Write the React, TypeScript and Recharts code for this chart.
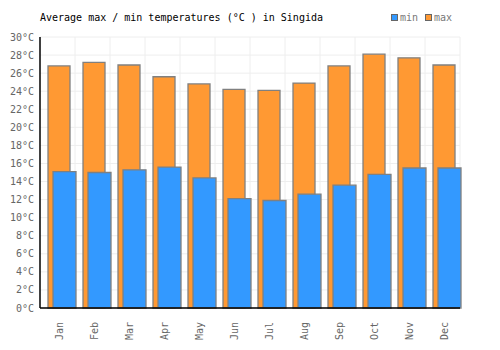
import React from 'react';
import { BarChart, Bar, XAxis, YAxis, CartesianGrid, Rectangle } from 'recharts';

const months = ['Jan', 'Feb', 'Mar', 'Apr', 'May', 'Jun', 'Jul', 'Aug', 'Sep', 'Oct', 'Nov', 'Dec'];
const minTemps = [15.1, 15.0, 15.3, 15.6, 14.4, 12.1, 11.9, 12.6, 13.6, 14.8, 15.5, 15.5];
const maxTemps = [26.8, 27.2, 26.9, 25.6, 24.8, 24.2, 24.1, 24.9, 26.8, 28.1, 27.7, 26.9];
const yTicks = [0, 2, 4, 6, 8, 10, 12, 14, 16, 18, 20, 22, 24, 26, 28, 30];
const title = 'Average max / min temperatures (°C ) in Singida';
const seriesNames = ['min', 'max'];

const data = months.map((m, i) => ({ month: m, min: minTemps[i], max: maxTemps[i] }));

const FONT = '"DejaVu Sans Mono", monospace';
const MIN_COLOR = '#3399ff';
const MAX_COLOR = '#ff9933';
const STROKE = '#808080';

const ShiftedBar = (props: any) => <Rectangle {...props} x={props.x + 4} />;

const XTick = (props: any) => {
  const { x, y, payload } = props;
  return (
    <g transform={`translate(${x + 5},${y + 6})`}>
      <text transform="rotate(-90)" textAnchor="end" fontSize={10} fontFamily={FONT} fill="#666">
        {payload.value}
      </text>
    </g>
  );
};

export default function App() {
  return (
    <div style={{ position: 'absolute', left: 0, top: 0, width: 500, height: 350, background: '#fff' }}>
      <div style={{ position: 'absolute', left: 40, top: 12, fontFamily: FONT, fontSize: 10, color: '#000', whiteSpace: 'pre' }}>
        {title}
      </div>
      <div style={{ position: 'absolute', left: 391, top: 12, fontFamily: FONT, fontSize: 10, color: '#777', display: 'flex', alignItems: 'center' }}>
        {seriesNames.map((n, i) => (
          <span key={n} style={{ display: 'flex', alignItems: 'center', marginRight: 7 }}>
            <span style={{ display: 'inline-block', width: 5, height: 5, background: i === 0 ? MIN_COLOR : MAX_COLOR, border: '1px solid #666', marginRight: 2 }} />
            {n}
          </span>
        ))}
      </div>
      <BarChart
        width={500}
        height={350}
        data={data}
        margin={{ top: 37, right: 40, bottom: 12, left: 0 }}
        barGap={-17}
        barCategoryGap={0}
      >
        <CartesianGrid
          stroke="#eeeeee"
          strokeWidth={1}
          verticalCoordinatesGenerator={({ offset }: any) =>
            months.map((_, i) => offset.left + ((i + 1) * offset.width) / months.length)
          }
        />
        <XAxis
          dataKey="month"
          height={30}
          tick={<XTick />}
          tickLine={false}
          axisLine={{ stroke: '#000', strokeWidth: 1.5 }}
          interval={0}
        />
        <YAxis
          width={40}
          domain={[0, 30]}
          ticks={yTicks}
          tickFormatter={(v: number) => `${v}°C`}
          tick={{ fontSize: 10, fontFamily: FONT, fill: '#666' }}
          tickLine={false}
          tickSize={6}
          tickMargin={0}
          axisLine={{ stroke: '#000', strokeWidth: 1.5 }}
          interval={0}
        />
        <Bar dataKey="max" barSize={22} fill={MAX_COLOR} stroke={STROKE} strokeWidth={1.3} isAnimationActive={false} shape={ShiftedBar} />
        <Bar dataKey="min" barSize={23} fill={MIN_COLOR} stroke={STROKE} strokeWidth={1.3} isAnimationActive={false} shape={ShiftedBar} />
      </BarChart>
    </div>
  );
}
